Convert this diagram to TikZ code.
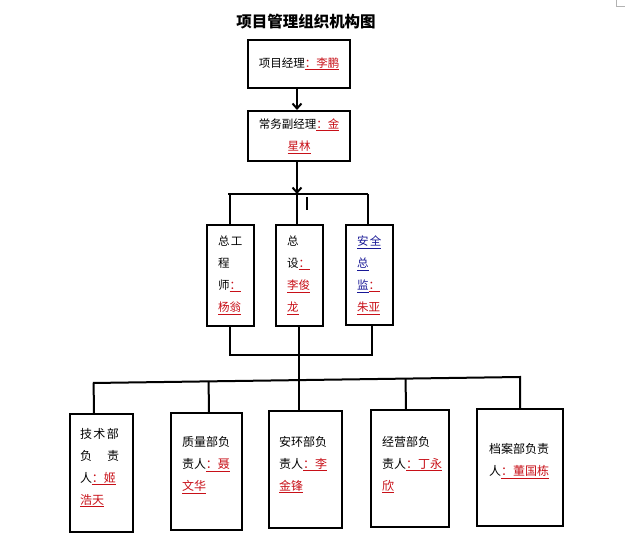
\documentclass[tikz,border=0pt]{standalone}
\usepackage{fontspec}
\setmainfont{Noto Sans CJK SC}
\newfontfamily\widecjk[LetterSpace=12]{Noto Sans CJK SC}
\usepackage{xcolor}
\usetikzlibrary{arrows.meta,calc,positioning}
\definecolor{namered}{RGB}{200,16,24}
\definecolor{rankblue}{RGB}{24,24,150}
\newcommand{\who}[1]{\textcolor{namered}{\underline{#1}}}
\newcommand{\blu}[1]{\textcolor{rankblue}{\underline{#1}}}
\tikzset{post/.style={draw=black, fill=white, line width=2pt, inner sep=0pt, font=\fontsize{11.5}{22}\selectfont},
posttext/.style={anchor=west, align=left, inner sep=0pt, font=\fontsize{12}{22}\selectfont}}

\begin{document}
\begin{tikzpicture}[x=1pt, y=-1pt, >={Straight Barb[length=5pt,width=9pt]}, line width=2pt]

    \useasboundingbox (0,0) rectangle (625,540);
    \draw[gray!60, line width=0.6pt] (616,0) -- (616,6) -- (625,6);

% the title

    \node[font=\fontsize{15.5}{18}\selectfont\bfseries] (title) at (306,22) {项目管理组织机构图};

% the managers

    \node[post, minimum width=102, minimum height=48] (xmjl) at (299,64) {项目经理\who{：李鹏}};
    \node[post, minimum width=102, minimum height=50, align=center] (cwfjl) at (299,136) {常务副经理\who{：金}\\\who{星林}};
    \draw[->] ([xshift=-2]xmjl.south) -- ([xshift=-2]cwfjl.north);

% the chief engineers

    \coordinate (br-l) at (228,194);
    \coordinate (br-r) at (368,194);
    \draw[->] ([xshift=-2]cwfjl.south) -- ([xshift=-2]cwfjl.south |- br-l);
    \draw (br-l) -- (br-r);
    \draw (307,197) -- (307,210);

    \node[post, minimum width=47, minimum height=101] (zgcs) at (230.5,275.5) {};
    \node[post, minimum width=47, minimum height=101] (zsj) at (299.5,275.5) {};
    \node[post, minimum width=47, minimum height=100] (aqzj) at (369.5,275) {};
    \draw ([xshift=-0.5]zgcs.north |- br-l) -- ([xshift=-0.5]zgcs.north);
    \draw ([xshift=-2.5]zsj.north |- br-l) -- ([xshift=-2.5]zsj.north);
    \draw (br-r) -- (br-r |- aqzj.north);

    \node[posttext, font=\fontsize{11.5}{22}\selectfont] (zgcs-t) at (217,275.5) {\widecjk 总工\\程\\师\who{：}\\\who{杨翁}};
    \node[posttext, font=\fontsize{11.5}{22}\selectfont] (zsj-t) at (286,275.5) {\widecjk 总\\设\who{：}\\\who{李俊}\\\who{龙}};
    \node[posttext, font=\fontsize{11.5}{22}\selectfont] (aqzj-t) at (356,275.5) {\widecjk\blu{安全}\\\blu{总}\\\blu{监}\who{：}\\\who{朱亚}};

    \coordinate (jn-l) at (230,355);
    \coordinate (jn-r) at (372,355);
    \draw ([xshift=2.5]aqzj.south) -- (jn-r) -- (jn-l) -- ([xshift=-0.5]zgcs.south);

% the departments

    \node[post, minimum width=63, minimum height=118] (jsb) at (101.5,473) {};
    \node[post, minimum width=71, minimum height=117] (zlb) at (206.5,471.5) {};
    \node[post, minimum width=73, minimum height=117] (ahb) at (305.5,469.5) {};
    \node[post, minimum width=78, minimum height=117] (jyb) at (410,468.5) {};
    \node[post, minimum width=86, minimum height=117] (dab) at (520,467.5) {};

    \coordinate (bus-l) at (93,383);
    \coordinate (bus-r) at (520,377);
    \draw (bus-l) -- (bus-r) -- (dab.north);
    \draw ([xshift=-0.5]zsj.south) -- ([xshift=-0.5]zsj.south |- ahb.north);
    \draw ([xshift=-7.5]jsb.north) -- ($(bus-l)!([xshift=-7.5]jsb.north)!(bus-r)$);
    \draw ([xshift=2.5]zlb.north) -- ($(bus-l)!([xshift=2.5]zlb.north)!(bus-r)$);
    \draw ([xshift=-4]jyb.north) -- ($(bus-l)!([xshift=-4]jyb.north)!(bus-r)$);

    \node[posttext] (jsb-t) at (79,467.5) {\widecjk 技术部\\负\hspace{15pt}责\\人\who{：姬}\\\who{浩天}};
    \node[posttext] (zlb-t) at (181,465) {质量部负\\责人\who{：聂}\\\who{文华}};
    \node[posttext] (ahb-t) at (278,464.5) {安环部负\\责人\who{：李}\\\who{金锋}};
    \node[posttext] (jyb-t) at (381,464.5) {经营部负\\责人\who{：丁永}\\\who{欣}};
    \node[posttext] (dab-t) at (488,461) {档案部负责\\人\who{：董国栋}};

\end{tikzpicture}
\end{document}
